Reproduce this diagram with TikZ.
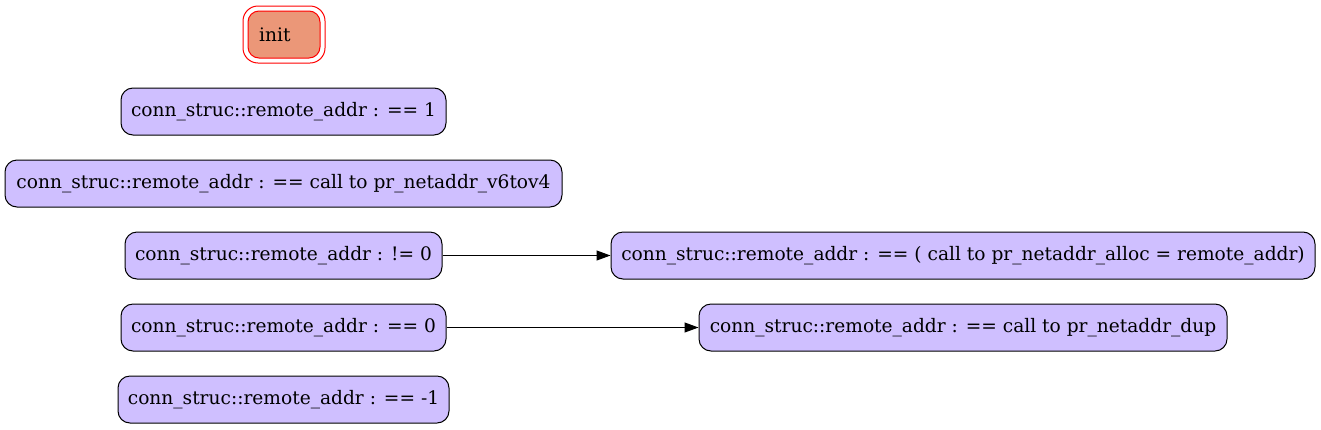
\documentclass[tikz,border=0pt]{standalone}
\usepackage{fontspec}
\setmainfont{DejaVu Serif}
\usetikzlibrary{arrows.meta}
\definecolor{boxfill}{HTML}{CFBFFF}
\definecolor{initfill}{HTML}{EB9778}
\tikzset{
  px/.style={x=1pt,y=-1pt},
  lbl/.style={font=\fontsize{18.6}{22}\selectfont},
  cond/.style={draw=black, fill=boxfill, rounded corners=12pt, line width=1pt,
    minimum height=47pt, inner sep=0pt, lbl},
  conn/.style={line width=1pt, -{Triangle[length=14pt,width=10pt]}},
}
\begin{document}
\begin{tikzpicture}[px]
\useasboundingbox (0,0) rectangle (1321,429);
% init node
\draw[red, line width=1pt, rounded corners=15pt] (243,6) rectangle (325,63);
\node[draw=red, fill=initfill, rounded corners=11pt, line width=1pt,
  minimum width=72pt, minimum height=47pt, inner sep=0pt] (init) at (284,34.5) {};
\node[anchor=west, inner sep=0pt, lbl] (initlbl) at (259,34.5) {init};
% left column
\node[cond, minimum width=325pt] (n1) at (283.5,111.5) {conn\_struc::remote\_addr : == 1};
\node[cond, minimum width=557pt] (n2) at (283.5,183.5) {conn\_struc::remote\_addr : == call to pr\_netaddr\_v6tov4};
\node[cond, minimum width=317pt] (n3) at (283.5,255.5) {conn\_struc::remote\_addr : != 0};
\node[cond, minimum width=325pt] (n4) at (283.5,327.5) {conn\_struc::remote\_addr : == 0};
\node[cond, minimum width=331pt] (n5) at (283.5,399.5) {conn\_struc::remote\_addr : == -1};
% right column
\node[cond, minimum width=704pt] (r1) at (963,255.5) {conn\_struc::remote\_addr : == ( call to pr\_netaddr\_alloc = remote\_addr)};
\node[cond, minimum width=528pt] (r2) at (963,327.5) {conn\_struc::remote\_addr : == call to pr\_netaddr\_dup};
% connectors
\draw[conn] (n3) -- (r1);
\draw[conn] (n4) -- (r2);
\end{tikzpicture}
\end{document}
